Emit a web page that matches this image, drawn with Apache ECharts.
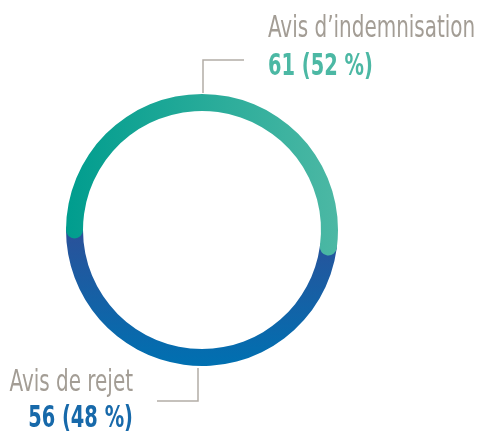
<!DOCTYPE html>
<html>
<head>
<meta charset="utf-8">
<script src="https://cdn.jsdelivr.net/npm/echarts@6/dist/echarts.min.js"></script>
<style>
  html, body { margin: 0; padding: 0; background: #fff; }
  #main { width: 478px; height: 434px; }
</style>
</head>
<body>
<div id="main"></div>
<script>
// data
const categories = ['Avis d’indemnisation', 'Avis de rejet'];
const values = [61, 56];
const total = values[0] + values[1];
const percents = values.map(v => Math.round(v / total * 100));

const greyText = '#a39d95';
const lineGrey = '#b3ada6';
const labelFont = '"DejaVu Sans Condensed", "Liberation Sans Narrow", sans-serif';

const chart = echarts.init(document.getElementById('main'));

chart.setOption({
  backgroundColor: '#fff',
  animation: false,
  polar: {
    center: [202, 230],
    radius: [110, 145]
  },
  angleAxis: {
    type: 'value',
    min: 0,
    max: total,
    startAngle: 180,
    clockwise: true,
    show: false
  },
  radiusAxis: {
    type: 'category',
    data: ['r'],
    show: false
  },
  series: [
    {
      name: categories[0],
      type: 'bar',
      coordinateSystem: 'polar',
      stack: 'ring',
      roundCap: true,
      barWidth: 17,
      z: 3,   // teal caps sit over the blue
      data: [values[0]],
      itemStyle: {
        color: new echarts.graphic.LinearGradient(0, 0, 1, 0, [
          { offset: 0, color: '#009d8e' },
          { offset: 1, color: '#4cb8a4' }
        ])
      }
    },
    {
      name: categories[1],
      type: 'bar',
      coordinateSystem: 'polar',
      stack: 'ring',
      roundCap: true,
      barWidth: 17,
      z: 2,
      data: [values[1]],
      itemStyle: {
        color: new echarts.graphic.LinearGradient(0, 0, 0, 1, [
          { offset: 0, color: '#2d4f98' },
          { offset: 1, color: '#0070b1' }
        ])
      }
    }
  ],
  graphic: [
    // leader lines
    {
      type: 'polyline',
      shape: { points: [[203, 93], [203, 60], [244, 60]] },
      style: { stroke: lineGrey, lineWidth: 1.5, fill: null }
    },
    {
      type: 'polyline',
      shape: { points: [[198, 368], [198, 401], [157, 401]] },
      style: { stroke: lineGrey, lineWidth: 1.5, fill: null }
    },
    // labels (condensed face squeezed a bit to match the narrow original)
    {
      type: 'text',
      x: 268, y: 29, scaleX: 0.74,
      style: {
        text: categories[0],
        fontFamily: labelFont, fontSize: 30,
        fill: greyText, textAlign: 'left', textVerticalAlign: 'middle'
      }
    },
    {
      type: 'text',
      x: 268, y: 67, scaleX: 0.72,
      style: {
        text: values[0] + ' (' + percents[0] + ' %)',
        fontFamily: labelFont, fontSize: 30, fontWeight: 'bold',
        fill: '#4cb8a4', textAlign: 'left', textVerticalAlign: 'middle'
      }
    },
    {
      type: 'text',
      x: 133, y: 383, scaleX: 0.74,
      style: {
        text: categories[1],
        fontFamily: labelFont, fontSize: 30,
        fill: greyText, textAlign: 'right', textVerticalAlign: 'middle'
      }
    },
    {
      type: 'text',
      x: 133, y: 419, scaleX: 0.72,
      style: {
        text: values[1] + ' (' + percents[1] + ' %)',
        fontFamily: labelFont, fontSize: 30, fontWeight: 'bold',
        fill: '#1769aa', textAlign: 'right', textVerticalAlign: 'middle'
      }
    }
  ]
});
</script>
</body>
</html>
